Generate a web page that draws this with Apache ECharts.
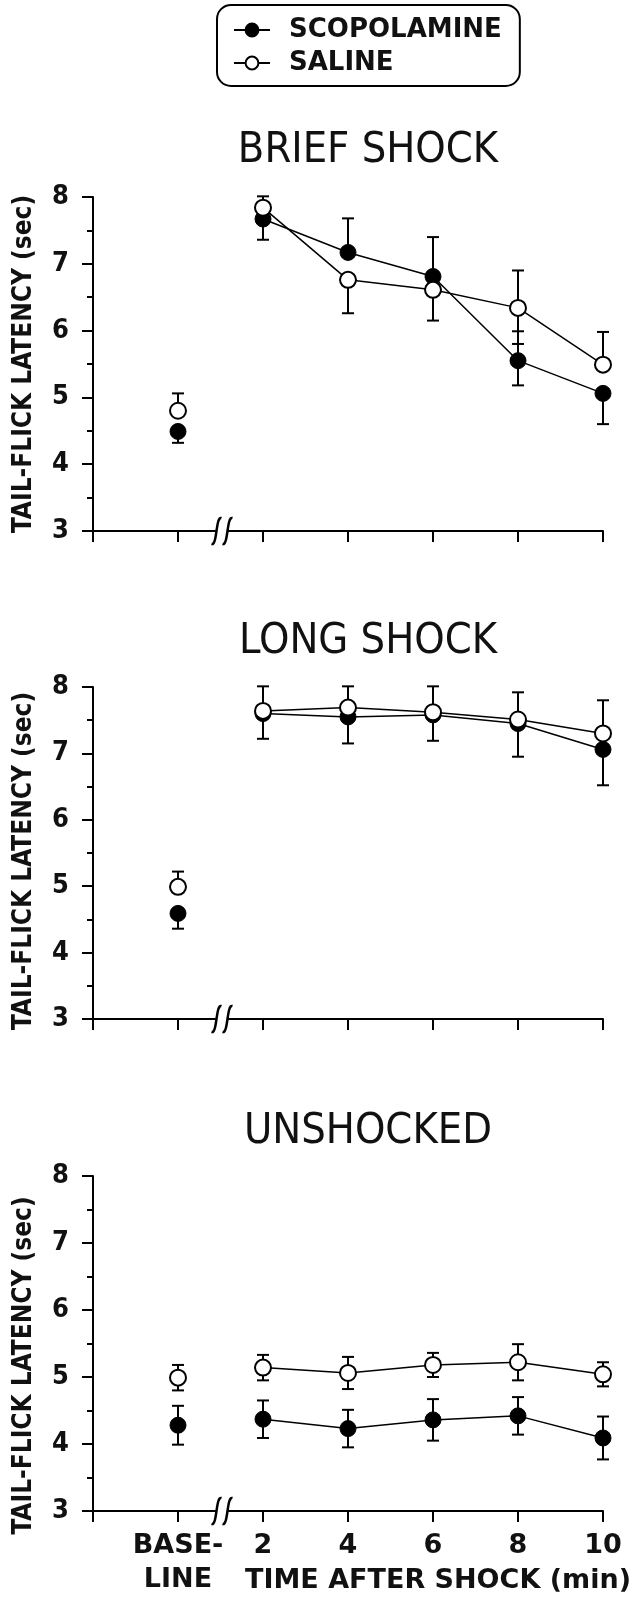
<!DOCTYPE html>
<html>
<head>
<meta charset="utf-8">
<script src="https://cdn.jsdelivr.net/npm/echarts@6/dist/echarts.min.js"></script>
<style>
  html, body { margin: 0; padding: 0; background: #fff; }
  #chart { width: 638px; height: 1605px; }
</style>
</head>
<body>
<div id="chart"></div>
<script>
// ---------------- DATA ----------------
const xCategories = ['', 'BASE-LINE', '2', '4', '6', '8', '10'];
const timePoints = ['BASE-LINE', '2', '4', '6', '8', '10'];
const panelTitles = ['BRIEF SHOCK', 'LONG SHOCK', 'UNSHOCKED'];
const yTicks = [3, 4, 5, 6, 7, 8];

// Brief shock
const briefScopMean = [4.49, 7.67, 7.17, 6.81, 5.55, 5.06];
const briefScopUp   = [0.00, 0.00, 0.51, 0.59, 0.44, 0.00];
const briefScopDown = [0.17, 0.31, 0.00, 0.00, 0.37, 0.46];
const briefSalMean  = [4.80, 7.84, 6.76, 6.61, 6.34, 5.49];
const briefSalUp    = [0.26, 0.17, 0.00, 0.00, 0.56, 0.49];
const briefSalDown  = [0.00, 0.00, 0.50, 0.46, 0.54, 0.00];

// Long shock
const longScopMean = [4.59, 7.60, 7.55, 7.58, 7.45, 7.06];
const longScopUp   = [0.00, 0.00, 0.00, 0.00, 0.00, 0.00];
const longScopDown = [0.23, 0.38, 0.40, 0.39, 0.50, 0.54];
const longSalMean  = [4.99, 7.64, 7.69, 7.62, 7.51, 7.30];
const longSalUp    = [0.23, 0.37, 0.32, 0.39, 0.41, 0.50];
const longSalDown  = [0.00, 0.00, 0.00, 0.00, 0.00, 0.00];

// Unshocked
const unsScopMean = [4.28, 4.37, 4.23, 4.36, 4.42, 4.09];
const unsScopUp   = [0.29, 0.28, 0.28, 0.31, 0.28, 0.32];
const unsScopDown = [0.29, 0.28, 0.28, 0.31, 0.28, 0.32];
const unsSalMean  = [4.99, 5.14, 5.06, 5.18, 5.22, 5.04];
const unsSalUp    = [0.19, 0.19, 0.24, 0.18, 0.27, 0.18];
const unsSalDown  = [0.19, 0.19, 0.24, 0.18, 0.27, 0.18];

const panels = [
  { scop: [briefScopMean, briefScopUp, briefScopDown], sal: [briefSalMean, briefSalUp, briefSalDown] },
  { scop: [longScopMean, longScopUp, longScopDown], sal: [longSalMean, longSalUp, longSalDown] },
  { scop: [unsScopMean, unsScopUp, unsScopDown], sal: [unsSalMean, unsSalUp, unsSalDown] }
];

// ---------------- STYLE / LAYOUT ----------------
const FONT = '"DejaVu Sans", "Liberation Sans", sans-serif';
const FONT_C = '"DejaVu Sans Condensed", "DejaVu Sans", sans-serif';
const gridDefs = [
  { left: 93, right: 35, top: 197, height: 334 },
  { left: 93, right: 35, top: 687, height: 332 },
  { left: 93, right: 35, top: 1176, height: 335 }
];
const titleTops = [129, 620, 1110];
const nameShift = [0, -8, -22];

const chart = echarts.init(document.getElementById('chart'), null, { renderer: 'canvas' });

function errRender(params, api) {
  const xi = api.value(0), y = api.value(1), up = api.value(2), dn = api.value(3);
  const top = api.coord([xi, y + up]);
  const bot = api.coord([xi, y - dn]);
  const cap = 6;
  const st = { stroke: '#000', lineWidth: 2 };
  const children = [{ type: 'line', shape: { x1: top[0], y1: top[1], x2: bot[0], y2: bot[1] }, style: st }];
  if (up > 0) children.push({ type: 'line', shape: { x1: top[0] - cap, y1: top[1], x2: top[0] + cap, y2: top[1] }, style: st });
  if (dn > 0) children.push({ type: 'line', shape: { x1: bot[0] - cap, y1: bot[1], x2: bot[0] + cap, y2: bot[1] }, style: st });
  return { type: 'group', children };
}

function breakRender(params, api) {
  const p1 = api.coord([1, 3]);
  const p2 = api.coord([2, 3]);
  const cx = (p1[0] + p2[0]) / 2 + 1.5;
  const cy = p1[1];
  const mk = (dx) => ({
    type: 'bezierCurve',
    shape: { x1: cx + dx - 5, y1: cy + 13, cpx1: cx + dx + 1, cpy1: cy + 15, cpx2: cx + dx - 1, cpy2: cy - 15, x2: cx + dx + 5, y2: cy - 13 },
    style: { stroke: '#000', lineWidth: 2.5, fill: null }
  });
  return {
    type: 'group',
    children: [
      { type: 'rect', shape: { x: cx - 5, y: cy - 3, width: 10, height: 6 }, style: { fill: '#fff' } },
      mk(-5.5), mk(5.5)
    ]
  };
}

const grids = [], xAxes = [], yAxes = [], series = [], titles = [];
panels.forEach((p, k) => {
  grids.push(gridDefs[k]);
  titles.push({
    text: panelTitles[k], left: 368, top: titleTops[k], textAlign: 'center', padding: 0,
    textStyle: { fontFamily: FONT_C, fontSize: 43, fontWeight: 'normal', color: '#111', lineHeight: 43 }
  });
  const last = k === panels.length - 1;
  xAxes.push({
    type: 'category', gridIndex: k, data: xCategories, boundaryGap: false,
    axisLine: { show: true, lineStyle: { color: '#000', width: 2 } },
    axisTick: { show: true, interval: 0, length: 11, lineStyle: { color: '#000', width: 2 } },
    axisLabel: {
      show: last, interval: 0, margin: 18, color: '#111',
      fontFamily: FONT, fontWeight: 'bold', fontSize: 27, lineHeight: 34,
      formatter: (v) => v.replace('-', '-\n')
    },
    splitLine: { show: false },
    name: last ? 'TIME AFTER SHOCK (min)' : '',
    nameLocation: 'middle', nameGap: 53, nameMoveOverlap: false,
    nameTextStyle: { fontFamily: FONT, fontWeight: 'bold', fontSize: 27, lineHeight: 34, color: '#111', padding: [0, 0, 0, 180] }
  });
  yAxes.push({
    type: 'value', gridIndex: k, min: yTicks[0], max: yTicks[yTicks.length - 1], interval: 1,
    axisLine: { show: true, lineStyle: { color: '#000', width: 2 } },
    axisTick: { show: true, length: 11, lineStyle: { color: '#000', width: 2 } },
    minorTick: { show: true, splitNumber: 2, length: 6, lineStyle: { color: '#000', width: 2 } },
    splitLine: { show: false }, minorSplitLine: { show: false },
    axisLabel: { margin: 24, color: '#111', fontFamily: FONT_C, fontWeight: 'bold', fontSize: 27 },
    name: 'TAIL-FLICK LATENCY (sec)', nameLocation: 'middle', nameGap: 56, nameRotate: 90, nameMoveOverlap: false,
    nameTextStyle: { fontFamily: FONT_C, fontWeight: 'bold', fontSize: 26, color: '#111', lineHeight: 26,
      padding: nameShift[k] < 0 ? [0, -nameShift[k] * 2, 0, 0] : 0 }
  });

  const groups = [
    { name: 'SCOPOLAMINE', d: p.scop, item: { color: '#000', borderColor: '#000', borderWidth: 1, opacity: 1 }, z: 3 },
    { name: 'SALINE', d: p.sal, item: { color: '#fff', borderColor: '#000', borderWidth: 2, opacity: 1 }, z: 4 }
  ];
  groups.forEach(g => {
    const [mean] = g.d;
    series.push({
      type: 'line', name: g.name, xAxisIndex: k, yAxisIndex: k, z: g.z,
      data: timePoints.slice(1).map((t, i) => [t, mean[i + 1]]),
      symbol: 'circle', symbolSize: 16, showSymbol: true,
      itemStyle: g.item, lineStyle: { color: '#000', width: 1.5 }, emphasis: { disabled: true }
    });
  });
  groups.forEach(g => {
    const [mean] = g.d;
    series.push({
      type: 'scatter', name: g.name, xAxisIndex: k, yAxisIndex: k, z: g.z,
      data: [[timePoints[0], mean[0]]], symbol: 'circle', symbolSize: 16,
      itemStyle: g.item, emphasis: { disabled: true }
    });
  });
  groups.forEach(g => {
    const [mean, up, dn] = g.d;
    series.push({
      type: 'custom', xAxisIndex: k, yAxisIndex: k, z: 2, silent: true,
      renderItem: errRender,
      encode: { x: 0, y: 1 },
      data: timePoints.map((t, i) => [i + 1, mean[i], up[i], dn[i]])
    });
  });
  series.push({
    type: 'custom', xAxisIndex: k, yAxisIndex: k, z: 5, silent: true,
    renderItem: breakRender, encode: { x: 0, y: 1 }, data: [[1, 3]]
  });
});

const option = {
  backgroundColor: '#fff',
  animation: false,
  title: titles,
  legend: {
    data: ['SCOPOLAMINE', 'SALINE'], orient: 'vertical', left: 217, top: 5,
    itemWidth: 36, itemHeight: 16, itemGap: 7,
    padding: [12, 18, 10, 16],
    borderColor: '#000', borderWidth: 2, borderRadius: 14,
    selectedMode: false,
    textStyle: { fontFamily: FONT, fontWeight: 'bold', fontSize: 26, lineHeight: 26, color: '#111', padding: [0, 0, 0, 14] }
  },
  grid: grids,
  xAxis: xAxes,
  yAxis: yAxes,
  series
};
chart.setOption(option);
</script>
</body>
</html>
